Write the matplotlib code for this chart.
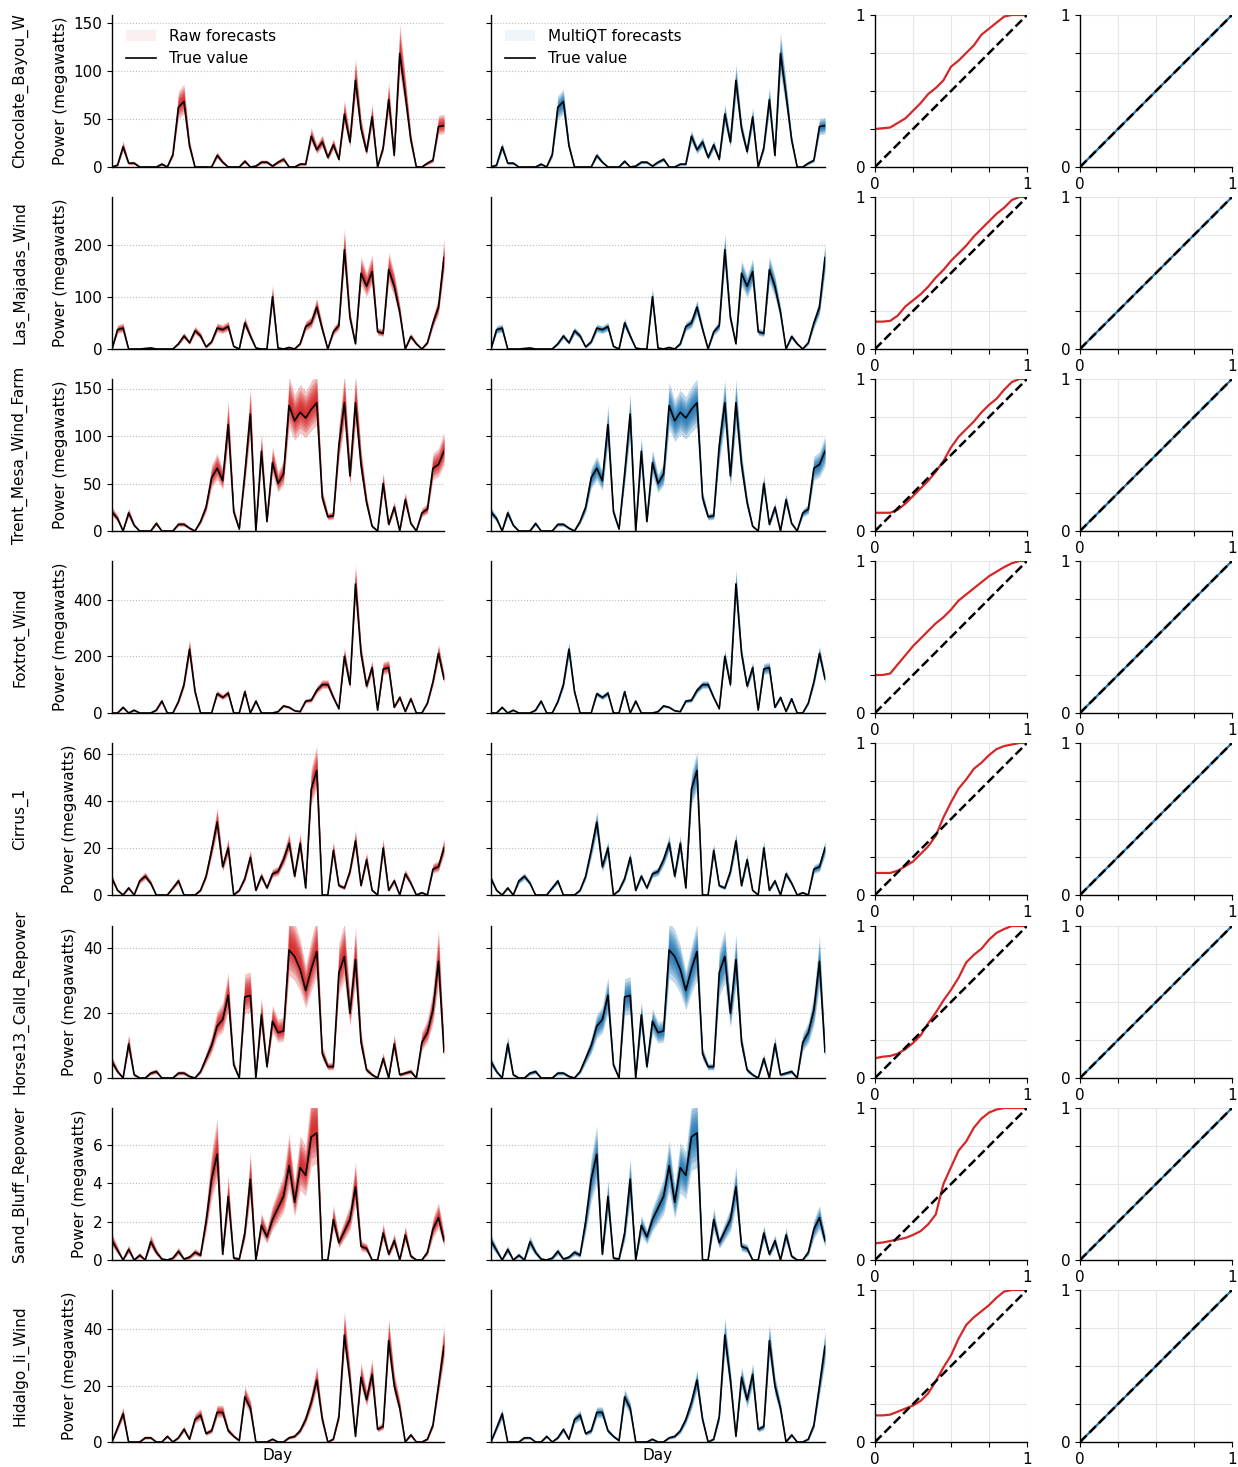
import numpy as np
import matplotlib
matplotlib.use("Agg")
import matplotlib.pyplot as plt
from matplotlib.patches import Patch
from matplotlib.lines import Line2D

plt.rcParams.update({
    "font.size": 11,
    "font.family": "DejaVu Sans",
    "axes.linewidth": 1.0,
})

RED = "#d62728"
BLUE = "#1f77b4"

sites = ["Chocolate_Bayou_W", "Las_Majadas_Wind", "Trent_Mesa_Wind_Farm",
         "Foxtrot_Wind", "Cirrus_1", "Horse13_Calld_Repower",
         "Sand_Bluff_Repower", "Hidalgo_Ii_Wind"]

# observed daily power per site (MW), 61 days
chocolate = [0, 2, 21, 4, 4, 0, 0, 0, 0, 3, 0, 13, 62, 68, 22, 0, 0, 0, 0, 12,
             5, 0, 0, 0, 6, 0, 1, 5, 5, 1, 5, 8, 0, 0, 3, 3, 32, 18, 26, 10,
             23, 8, 55, 26, 90, 40, 16, 52, 0, 20, 70, 12, 118, 75, 28, 0, 0, 4, 7, 42,
             43]
majadas = [0, 37, 40, 0, 0, 0, 1, 2, 0, 0, 0, 0, 10, 25, 12, 35, 25, 4, 14, 40,
           37, 43, 5, 0, 50, 25, 2, 0, 0, 100, 2, 0, 3, 0, 10, 43, 50, 80, 38, 0,
           33, 45, 190, 60, 10, 145, 120, 148, 33, 30, 152, 120, 70, 0, 24, 10, 0, 12, 50, 80,
           175]
trent = [20, 13, 0, 19, 6, 0, 0, 0, 8, 0, 0, 0, 7, 7, 3, 0, 10, 25, 56, 66,
         53, 112, 20, 2, 60, 123, 0, 84, 10, 72, 50, 60, 132, 116, 125, 119, 128, 135, 35, 15,
         16, 90, 135, 58, 135, 70, 30, 5, 0, 50, 7, 25, 0, 33, 8, 0, 19, 23, 66, 70,
         84]
foxtrot = [0, 0, 20, 0, 10, 0, 0, 0, 10, 42, 0, 0, 40, 100, 225, 75, 0, 0, 0, 68,
           55, 70, 0, 0, 75, 0, 42, 0, 0, 0, 5, 25, 20, 8, 5, 42, 45, 80, 100, 100,
           55, 15, 200, 100, 455, 210, 95, 160, 10, 155, 160, 20, 55, 5, 50, 0, 0, 35, 110, 210,
           120]
cirrus = [7, 2, 0, 3, 0, 6, 8, 5, 0, 0, 0, 3, 6, 0, 0, 0, 2, 8, 19, 31,
          12, 20, 0, 2, 7, 16, 2, 8, 3, 9, 10, 15, 22, 8, 22, 3, 45, 53, 0, 0,
          19, 4, 3, 10, 23, 4, 15, 2, 0, 20, 2, 6, 0, 9, 5, 0, 1, 0, 11, 12,
          20]
horse13 = [5, 2, 0, 10.5, 1, 0, 0, 1.5, 2, 0, 0, 0, 1.5, 1.5, 0.5, 0, 2, 6, 10, 16,
           18, 25.5, 4, 0, 25, 25.5, 0, 19.5, 3.5, 17.5, 14, 14.5, 39.5, 37.5, 33.5, 27, 33.5, 39, 7.5, 3.5,
           3.5, 32.5, 37.5, 20, 36.5, 11, 2.5, 1, 0, 6, 0, 10.5, 1, 1.5, 2, 0, 11, 14, 21, 36,
           8]
sand_bluff = [1.0, 0.5, 0, 0.55, 0, 0.25, 0, 0.95, 0.4, 0.05, 0, 0.1, 0.45, 0.05, 0.15, 0.4, 0.25, 2.0, 4.2, 5.5,
              0.3, 3.3, 0.1, 0.05, 1.4, 4.2, 0, 1.8, 1.2, 2.1, 2.7, 3.3, 4.9, 3.0, 4.8, 4.4, 6.4, 6.6, 0, 0,
              2.1, 0.9, 1.5, 2.1, 3.8, 0.7, 0.6, 0, 0, 1.4, 0.3, 1.0, 0, 1.3, 0.2, 0, 0, 0.4, 1.6, 2.2,
              1.0]
hidalgo = [0, 5, 10, 0, 0, 0, 1.5, 1.5, 0, 0, 2, 0, 1.5, 4.5, 1, 8, 9.5, 3, 4, 10.5,
           10.5, 4, 2, 0.5, 16, 12, 0, 0, 0, 1, 0, 0, 1.5, 2, 4, 8, 14, 22, 8, 0,
           1, 9, 38, 22, 2, 23, 15, 24, 4.5, 5.5, 36, 20, 12, 0, 2.5, 0, 0, 1, 6, 20,
           34]
observed = [chocolate, majadas, trent, foxtrot, cirrus, horse13, sand_bluff, hidalgo]

y_top = [158, 291, 160, 536, 64.7, 46.9, 7.9, 54]
y_step = [50, 100, 50, 200, 20, 20, 2, 20]

# relative quantile spread of each forecast model, and upward bias of the raw model
raw_spread = [0.13, 0.11, 0.12, 0.08, 0.10, 0.14, 0.17, 0.11]
raw_bias = [0.04, 0.03, 0.03, 0.02, 0.03, 0.04, 0.05, 0.04]
mqt_spread = [0.11, 0.10, 0.11, 0.07, 0.09, 0.13, 0.16, 0.10]

# calibration curves: observed frequency vs nominal quantile level
levels = [0, 0.05, 0.1, 0.15, 0.2, 0.25, 0.3, 0.35, 0.4, 0.45, 0.5,
          0.55, 0.6, 0.65, 0.7, 0.75, 0.8, 0.85, 0.9, 0.95, 1.0]
raw_cal = [
    [0.25, 0.255, 0.26, 0.29, 0.32, 0.37, 0.42, 0.48, 0.52, 0.57, 0.66, 0.70, 0.75, 0.80, 0.87, 0.91, 0.95, 0.99, 1.0, 1.0, 1.0],
    [0.18, 0.18, 0.185, 0.22, 0.28, 0.32, 0.36, 0.41, 0.47, 0.52, 0.58, 0.63, 0.68, 0.74, 0.79, 0.84, 0.89, 0.93, 0.98, 1.0, 1.0],
    [0.12, 0.12, 0.12, 0.14, 0.18, 0.23, 0.28, 0.33, 0.39, 0.46, 0.55, 0.62, 0.67, 0.72, 0.78, 0.83, 0.87, 0.93, 0.98, 1.0, 1.0],
    [0.25, 0.25, 0.26, 0.32, 0.38, 0.44, 0.49, 0.54, 0.59, 0.63, 0.68, 0.74, 0.78, 0.82, 0.86, 0.90, 0.93, 0.96, 0.985, 1.0, 1.0],
    [0.145, 0.145, 0.145, 0.16, 0.19, 0.22, 0.27, 0.32, 0.39, 0.51, 0.61, 0.70, 0.76, 0.83, 0.87, 0.92, 0.96, 0.98, 0.99, 1.0, 1.0],
    [0.13, 0.14, 0.145, 0.16, 0.19, 0.23, 0.28, 0.36, 0.43, 0.51, 0.58, 0.66, 0.76, 0.81, 0.85, 0.91, 0.955, 0.98, 1.0, 1.0, 1.0],
    [0.11, 0.115, 0.125, 0.135, 0.145, 0.165, 0.19, 0.235, 0.30, 0.50, 0.61, 0.72, 0.78, 0.87, 0.93, 0.97, 0.99, 1.0, 1.0, 1.0, 1.0],
    [0.175, 0.175, 0.18, 0.20, 0.22, 0.24, 0.27, 0.32, 0.40, 0.49, 0.57, 0.68, 0.77, 0.82, 0.86, 0.90, 0.95, 0.99, 1.0, 1.0, 1.0],
]
mqt_cal = [0, 0.05, 0.1, 0.15, 0.2, 0.25, 0.3, 0.35, 0.4, 0.45, 0.5,
           0.55, 0.6, 0.65, 0.7, 0.75, 0.8, 0.85, 0.9, 0.95, 1.0]

# standard-normal multipliers for the central 10%..90% quantile intervals
z_fan = [0.13, 0.25, 0.39, 0.52, 0.67, 0.84, 1.04, 1.28, 1.64]

W, H = 1238, 1467
fig = plt.figure(figsize=(W / 100, H / 100), dpi=100)

col_x = [112, 491, 875, 1080]
col_w = [332, 334, 152, 152]
row_top = [15, 197, 379, 561, 743, 926, 1108, 1290]
row_h = 152


def box(c, r):
    return [col_x[c] / W, 1 - (row_top[r] + row_h) / H, col_w[c] / W, row_h / H]


def fan(ax, days, vals, spread, bias, color, ymax):
    center = vals * (1 + bias)
    for z in z_fan:
        half = spread * z * (vals + 0.03 * ymax)
        ax.fill_between(days, np.clip(center - half, 0, None), center + half,
                        color=color, alpha=0.28, lw=0)


def style_ts(ax, r):
    for s in ("top", "right"):
        ax.spines[s].set_visible(False)
    ax.set_xlim(0, 60)
    ax.set_ylim(0, y_top[r])
    ax.set_yticks(np.arange(0, y_top[r], y_step[r]))
    ax.set_xticks([])
    ax.yaxis.grid(True, ls=":", lw=0.8, color="#bbbbbb")
    ax.set_axisbelow(True)


def style_cal(ax):
    for s in ("top", "right"):
        ax.spines[s].set_visible(False)
    ax.set_xlim(0, 1)
    ax.set_ylim(0, 1)
    ticks = [0, 0.25, 0.5, 0.75, 1]
    labels = ["0", "", "", "", "1"]
    ax.set_xticks(ticks, labels)
    ax.set_yticks(ticks, labels)
    ax.grid(True, color="#e6e6e6", lw=0.8)
    ax.set_axisbelow(True)


for r, name in enumerate(sites):
    vals = np.array(observed[r], dtype=float)
    days = np.arange(len(vals))

    ax1 = fig.add_axes(box(0, r))
    fan(ax1, days, vals, raw_spread[r], raw_bias[r], RED, y_top[r])
    ax1.plot(days, vals, color="black", lw=1.2)
    style_ts(ax1, r)
    ax1.set_ylabel("Power (megawatts)")

    ax2 = fig.add_axes(box(1, r))
    fan(ax2, days, vals, mqt_spread[r], 0.0, BLUE, y_top[r])
    ax2.plot(days, vals, color="black", lw=1.2)
    style_ts(ax2, r)
    ax2.set_yticklabels([])

    fig.text(20 / W, 1 - (row_top[r] + row_h / 2) / H, name, rotation=90,
             ha="center", va="center", fontsize=11)

    if r == 0:
        ax1.legend([Patch(facecolor=RED, alpha=0.07), Line2D([], [], color="black", lw=1.2)],
                   ["Raw forecasts", "True value"], loc="upper left", frameon=False)
        ax2.legend([Patch(facecolor=BLUE, alpha=0.07), Line2D([], [], color="black", lw=1.2)],
                   ["MultiQT forecasts", "True value"], loc="upper left", frameon=False)
    if r == len(sites) - 1:
        ax1.set_xlabel("Day")
        ax2.set_xlabel("Day")

    ax3 = fig.add_axes(box(2, r))
    ax3.plot(levels, raw_cal[r], color=RED, lw=1.6)
    ax3.plot([0, 1], [0, 1], "k--", lw=1.8)
    style_cal(ax3)

    ax4 = fig.add_axes(box(3, r))
    ax4.plot(levels, mqt_cal, color=BLUE, lw=1.6)
    ax4.plot([0, 1], [0, 1], "k--", lw=1.8)
    style_cal(ax4)

fig.savefig("out.png", dpi=100)
